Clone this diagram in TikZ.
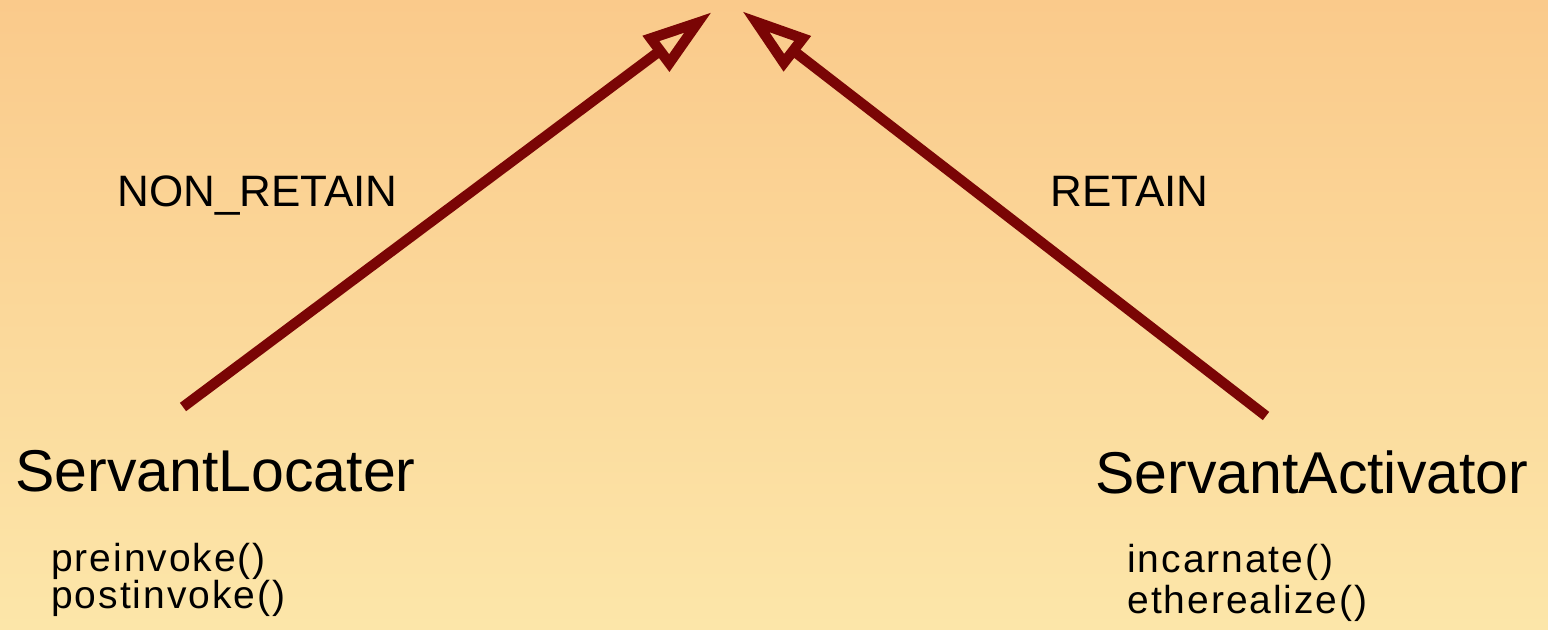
\documentclass[tikz,border=0pt]{standalone}
\usepackage{fontspec}
\setmainfont{Liberation Sans}
\newfontfamily\opsfont[LetterSpace=5]{Liberation Sans}
\usepackage{tikz}
\usetikzlibrary{arrows.meta,positioning}
\definecolor{bgtop}{HTML}{FACA8B}
\definecolor{bgbot}{HTML}{FCE6A9}
\definecolor{rel}{HTML}{7A0505}
\tikzset{
  inh/.style={-{Triangle[open,length=35pt,width=21pt]},draw=rel,line width=5.2pt},
  cls/.style={anchor=base west,inner sep=0pt,font=\fontsize{29.5}{30}\selectfont},
  ops/.style={anchor=base west,inner sep=0pt,font=\opsfont\fontsize{19.5}{18}\selectfont},
  lab/.style={anchor=base west,inner sep=0pt,font=\fontsize{22}{22}\selectfont},
}

\begin{document}
\begin{tikzpicture}[x=0.5pt,y=-0.5pt]
% background
\fill[top color=bgtop,bottom color=bgbot] (0,0) rectangle (1548,630);
\useasboundingbox (0,0) rectangle (1548,630);
% classes
\node[cls] (locater) at (15,492) {ServantLocater};
\node[cls] (activator) at (1095,494) {ServantActivator};
\foreach \t/\n [count=\i] in {preinvoke()/preinv,postinvoke()/postinv}{
  \pgfmathsetmacro\y{572+37*(\i-1)}
  \node[ops] (\n) at (51,\y) {\t};
}
\foreach \t/\n [count=\i] in {incarnate()/incarn,etherealize()/ether}{
  \pgfmathsetmacro\y{573+40*(\i-1)}
  \node[ops] (\n) at (1127,\y) {\t};
}
% inheritance
\coordinate (locfoot) at (183,407);
\coordinate (actfoot) at (1266,416);
\coordinate (tipl) at (712,12);
\coordinate (tipr) at (742,11);
\draw[inh] (locfoot) -- (tipl);
\draw[inh] (actfoot) -- (tipr);
\node[lab] (nonret) at (117,207) {NON\_RETAIN};
\node[lab] (ret) at (1050,207) {RETAIN};
\end{tikzpicture}
\end{document}
